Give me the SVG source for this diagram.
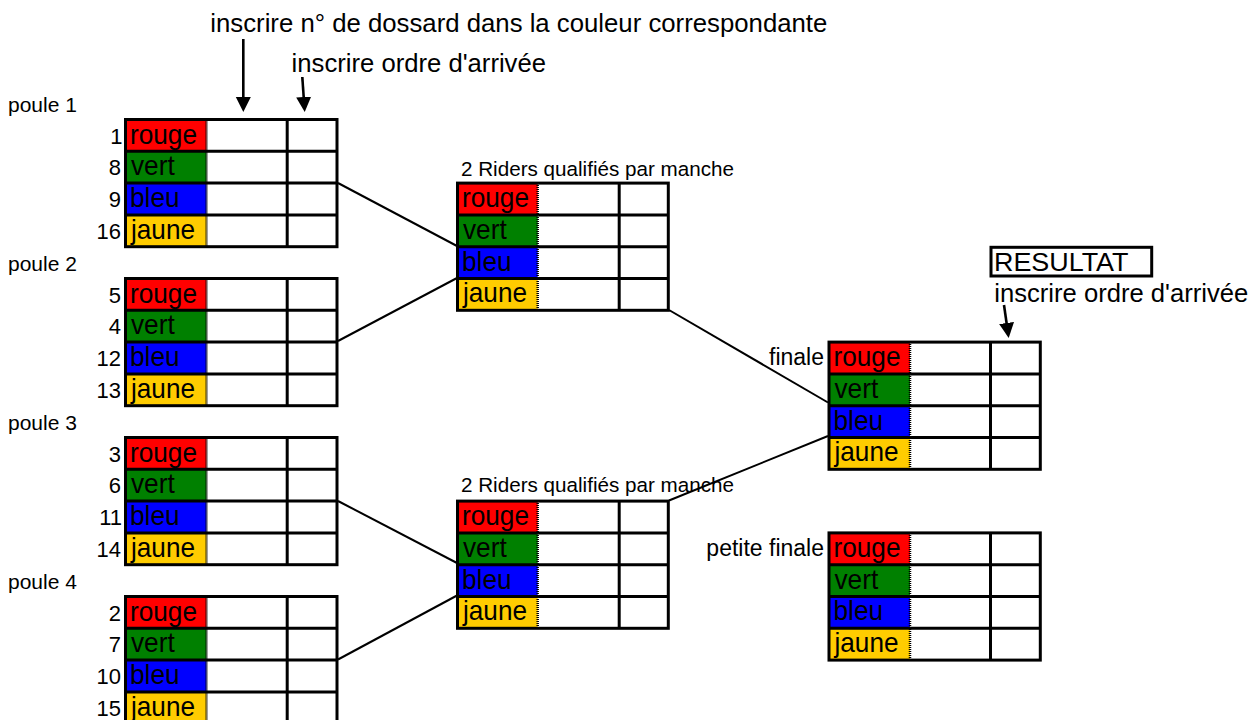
<svg xmlns="http://www.w3.org/2000/svg" width="1258" height="720" viewBox="0 0 1258 720">
<style>
text{font-family:"Liberation Sans",Arial,sans-serif;fill:#000}
.b{fill:none;stroke:#000;stroke-width:3}
.g{fill:none;stroke:#000;stroke-width:3}
.d{stroke:#000;stroke-width:2.5;stroke-dasharray:1 1}
.r{fill:#ff0000}.v{fill:#008000}.bl{fill:#0000ff}.j{fill:#ffcc00}
.w{font-size:28px}
.n{font-size:22px;text-anchor:end}
.lbl{font-size:21px}
.q{font-size:20.5px}
.f{font-size:23px;text-anchor:end}
.big{font-size:25px}
.c{fill:none;stroke:#000;stroke-width:2}
.a{fill:none;stroke:#000;stroke-width:2.6}
</style>
<defs>
<marker id="ah" markerUnits="userSpaceOnUse" markerWidth="16" markerHeight="16" viewBox="0 0 16 16" refX="3" refY="8" orient="auto">
<path d="M0 0.5L15 8L0 15.5z" fill="#000"/>
</marker>
</defs>
<rect width="1258" height="720" fill="#fff"/>

<g id="notes">
<text class="big" x="210.3" y="31.5" textLength="617" lengthAdjust="spacingAndGlyphs">inscrire n° de dossard dans la couleur correspondante</text>
<text class="big" x="291.6" y="71.7" textLength="254.4" lengthAdjust="spacingAndGlyphs">inscrire ordre d'arrivée</text>
<text class="big" x="994.3" y="302" textLength="254" lengthAdjust="spacingAndGlyphs">inscrire ordre d'arrivée</text>
</g>

<g id="resultat">
<rect x="991" y="247.3" width="160.7" height="28.7" class="b"/>
<text class="big" x="994" y="271.3" textLength="134.5" lengthAdjust="spacingAndGlyphs">RESULTAT</text>
</g>

<g id="arrows">
<line class="a" x1="243.3" y1="39" x2="243.3" y2="100" marker-end="url(#ah)"/>
<line class="a" x1="302.3" y1="77" x2="303.9" y2="100" marker-end="url(#ah)"/>
<line class="a" x1="1004" y1="305" x2="1007" y2="326" marker-end="url(#ah)"/>
</g>

<g id="connectors">
<line class="c" x1="338" y1="183" x2="457" y2="246"/>
<line class="c" x1="338" y1="341" x2="457" y2="278"/>
<line class="c" x1="669" y1="310" x2="828" y2="402.5"/>
<line class="c" x1="669" y1="500.5" x2="828" y2="436"/>
<line class="c" x1="338" y1="501" x2="457" y2="563"/>
<line class="c" x1="338" y1="659.5" x2="457" y2="595.5"/>
</g>

<g id="poule1" transform="translate(125.5,119.5)">
<text class="lbl" x="-117.5" y="-7.8">poule 1</text>
<rect class="r" x="0" y="0" width="81" height="31.8"/>
<rect class="v" x="0" y="31.8" width="81" height="31.8"/>
<rect class="bl" x="0" y="63.6" width="81" height="31.8"/>
<rect class="j" x="0" y="95.4" width="81" height="31.8"/>
<line class="d" x1="81" y1="0" x2="81" y2="127.2"/>
<path class="g" d="M0 31.8H211.5M0 63.6H211.5M0 95.4H211.5M161.7 0V127.2"/>
<rect class="b" x="0" y="0" width="211.5" height="127.2"/>
<text class="n" x="-3" y="24">1</text>
<text class="n" x="-4.5" y="55.8">8</text>
<text class="n" x="-4.5" y="87.6">9</text>
<text class="n" x="-4.5" y="119.4">16</text>
<text class="w" x="4.5" y="24" textLength="67" lengthAdjust="spacingAndGlyphs">rouge</text>
<text class="w" x="5.5" y="55.8" textLength="43.7" lengthAdjust="spacingAndGlyphs">vert</text>
<text class="w" x="4.5" y="87.6" textLength="49.5" lengthAdjust="spacingAndGlyphs">bleu</text>
<text class="w" x="5.5" y="119.4" textLength="64" lengthAdjust="spacingAndGlyphs">jaune</text>
</g>

<g id="poule2" transform="translate(125.5,278.5)">
<text class="lbl" x="-117.5" y="-7.8">poule 2</text>
<rect class="r" x="0" y="0" width="81" height="31.8"/>
<rect class="v" x="0" y="31.8" width="81" height="31.8"/>
<rect class="bl" x="0" y="63.6" width="81" height="31.8"/>
<rect class="j" x="0" y="95.4" width="81" height="31.8"/>
<line class="d" x1="81" y1="0" x2="81" y2="127.2"/>
<path class="g" d="M0 31.8H211.5M0 63.6H211.5M0 95.4H211.5M161.7 0V127.2"/>
<rect class="b" x="0" y="0" width="211.5" height="127.2"/>
<text class="n" x="-4.5" y="24">5</text>
<text class="n" x="-4.5" y="55.8">4</text>
<text class="n" x="-4.5" y="87.6">12</text>
<text class="n" x="-4.5" y="119.4">13</text>
<text class="w" x="4.5" y="24" textLength="67" lengthAdjust="spacingAndGlyphs">rouge</text>
<text class="w" x="5.5" y="55.8" textLength="43.7" lengthAdjust="spacingAndGlyphs">vert</text>
<text class="w" x="4.5" y="87.6" textLength="49.5" lengthAdjust="spacingAndGlyphs">bleu</text>
<text class="w" x="5.5" y="119.4" textLength="64" lengthAdjust="spacingAndGlyphs">jaune</text>
</g>

<g id="poule3" transform="translate(125.5,437.5)">
<text class="lbl" x="-117.5" y="-7.8">poule 3</text>
<rect class="r" x="0" y="0" width="81" height="31.8"/>
<rect class="v" x="0" y="31.8" width="81" height="31.8"/>
<rect class="bl" x="0" y="63.6" width="81" height="31.8"/>
<rect class="j" x="0" y="95.4" width="81" height="31.8"/>
<line class="d" x1="81" y1="0" x2="81" y2="127.2"/>
<path class="g" d="M0 31.8H211.5M0 63.6H211.5M0 95.4H211.5M161.7 0V127.2"/>
<rect class="b" x="0" y="0" width="211.5" height="127.2"/>
<text class="n" x="-4.5" y="24">3</text>
<text class="n" x="-4.5" y="55.8">6</text>
<text class="n" x="-3.5" y="87.6">11</text>
<text class="n" x="-4.5" y="119.4">14</text>
<text class="w" x="4.5" y="24" textLength="67" lengthAdjust="spacingAndGlyphs">rouge</text>
<text class="w" x="5.5" y="55.8" textLength="43.7" lengthAdjust="spacingAndGlyphs">vert</text>
<text class="w" x="4.5" y="87.6" textLength="49.5" lengthAdjust="spacingAndGlyphs">bleu</text>
<text class="w" x="5.5" y="119.4" textLength="64" lengthAdjust="spacingAndGlyphs">jaune</text>
</g>

<g id="poule4" transform="translate(125.5,596.5)">
<text class="lbl" x="-117.5" y="-7.8">poule 4</text>
<rect class="r" x="0" y="0" width="81" height="31.8"/>
<rect class="v" x="0" y="31.8" width="81" height="31.8"/>
<rect class="bl" x="0" y="63.6" width="81" height="31.8"/>
<rect class="j" x="0" y="95.4" width="81" height="31.8"/>
<line class="d" x1="81" y1="0" x2="81" y2="127.2"/>
<path class="g" d="M0 31.8H211.5M0 63.6H211.5M0 95.4H211.5M161.7 0V127.2"/>
<rect class="b" x="0" y="0" width="211.5" height="127.2"/>
<text class="n" x="-4.5" y="24">2</text>
<text class="n" x="-4.5" y="55.8">7</text>
<text class="n" x="-4.5" y="87.6">10</text>
<text class="n" x="-4.5" y="119.4">15</text>
<text class="w" x="4.5" y="24" textLength="67" lengthAdjust="spacingAndGlyphs">rouge</text>
<text class="w" x="5.5" y="55.8" textLength="43.7" lengthAdjust="spacingAndGlyphs">vert</text>
<text class="w" x="4.5" y="87.6" textLength="49.5" lengthAdjust="spacingAndGlyphs">bleu</text>
<text class="w" x="5.5" y="119.4" textLength="64" lengthAdjust="spacingAndGlyphs">jaune</text>
</g>

<g id="manche1" transform="translate(457.5,183.1)">
<text class="q" x="3.5" y="-7.6" textLength="273" lengthAdjust="spacingAndGlyphs">2 Riders qualifiés par manche</text>
<rect class="r" x="0" y="0" width="80.2" height="31.8"/>
<rect class="v" x="0" y="31.8" width="80.2" height="31.8"/>
<rect class="bl" x="0" y="63.6" width="80.2" height="31.8"/>
<rect class="j" x="0" y="95.4" width="80.2" height="31.8"/>
<line class="d" x1="80.2" y1="0" x2="80.2" y2="127.2"/>
<path class="g" d="M0 31.8H210.8M0 63.6H210.8M0 95.4H210.8M161.7 0V127.2"/>
<rect class="b" x="0" y="0" width="210.8" height="127.2"/>
<text class="w" x="4.5" y="24" textLength="67" lengthAdjust="spacingAndGlyphs">rouge</text>
<text class="w" x="5.5" y="55.8" textLength="43.7" lengthAdjust="spacingAndGlyphs">vert</text>
<text class="w" x="4.5" y="87.6" textLength="49.5" lengthAdjust="spacingAndGlyphs">bleu</text>
<text class="w" x="5.5" y="119.4" textLength="64" lengthAdjust="spacingAndGlyphs">jaune</text>
</g>

<g id="manche2" transform="translate(457.5,501.1)">
<text class="q" x="3.5" y="-9" textLength="273" lengthAdjust="spacingAndGlyphs">2 Riders qualifiés par manche</text>
<rect class="r" x="0" y="0" width="80.2" height="31.8"/>
<rect class="v" x="0" y="31.8" width="80.2" height="31.8"/>
<rect class="bl" x="0" y="63.6" width="80.2" height="31.8"/>
<rect class="j" x="0" y="95.4" width="80.2" height="31.8"/>
<line class="d" x1="80.2" y1="0" x2="80.2" y2="127.2"/>
<path class="g" d="M0 31.8H210.8M0 63.6H210.8M0 95.4H210.8M161.7 0V127.2"/>
<rect class="b" x="0" y="0" width="210.8" height="127.2"/>
<text class="w" x="4.5" y="24" textLength="67" lengthAdjust="spacingAndGlyphs">rouge</text>
<text class="w" x="5.5" y="55.8" textLength="43.7" lengthAdjust="spacingAndGlyphs">vert</text>
<text class="w" x="4.5" y="87.6" textLength="49.5" lengthAdjust="spacingAndGlyphs">bleu</text>
<text class="w" x="5.5" y="119.4" textLength="64" lengthAdjust="spacingAndGlyphs">jaune</text>
</g>

<g id="finale" transform="translate(829,342.1)">
<text class="f" x="-5" y="23">finale</text>
<rect class="r" x="0" y="0" width="81" height="31.8"/>
<rect class="v" x="0" y="31.8" width="81" height="31.8"/>
<rect class="bl" x="0" y="63.6" width="81" height="31.8"/>
<rect class="j" x="0" y="95.4" width="81" height="31.8"/>
<line class="d" x1="81" y1="0" x2="81" y2="127.2"/>
<path class="g" d="M0 31.8H211.3M0 63.6H211.3M0 95.4H211.3M161.5 0V127.2"/>
<rect class="b" x="0" y="0" width="211.3" height="127.2"/>
<text class="w" x="4.5" y="24" textLength="67" lengthAdjust="spacingAndGlyphs">rouge</text>
<text class="w" x="5.5" y="55.8" textLength="43.7" lengthAdjust="spacingAndGlyphs">vert</text>
<text class="w" x="4.5" y="87.6" textLength="49.5" lengthAdjust="spacingAndGlyphs">bleu</text>
<text class="w" x="5.5" y="119.4" textLength="64" lengthAdjust="spacingAndGlyphs">jaune</text>
</g>

<g id="petite-finale" transform="translate(829,532.9)">
<text class="f" x="-5" y="23">petite finale</text>
<rect class="r" x="0" y="0" width="81" height="31.8"/>
<rect class="v" x="0" y="31.8" width="81" height="31.8"/>
<rect class="bl" x="0" y="63.6" width="81" height="31.8"/>
<rect class="j" x="0" y="95.4" width="81" height="31.8"/>
<line class="d" x1="81" y1="0" x2="81" y2="127.2"/>
<path class="g" d="M0 31.8H211.3M0 63.6H211.3M0 95.4H211.3M161.5 0V127.2"/>
<rect class="b" x="0" y="0" width="211.3" height="127.2"/>
<text class="w" x="4.5" y="24" textLength="67" lengthAdjust="spacingAndGlyphs">rouge</text>
<text class="w" x="5.5" y="55.8" textLength="43.7" lengthAdjust="spacingAndGlyphs">vert</text>
<text class="w" x="4.5" y="87.6" textLength="49.5" lengthAdjust="spacingAndGlyphs">bleu</text>
<text class="w" x="5.5" y="119.4" textLength="64" lengthAdjust="spacingAndGlyphs">jaune</text>
</g>
</svg>
